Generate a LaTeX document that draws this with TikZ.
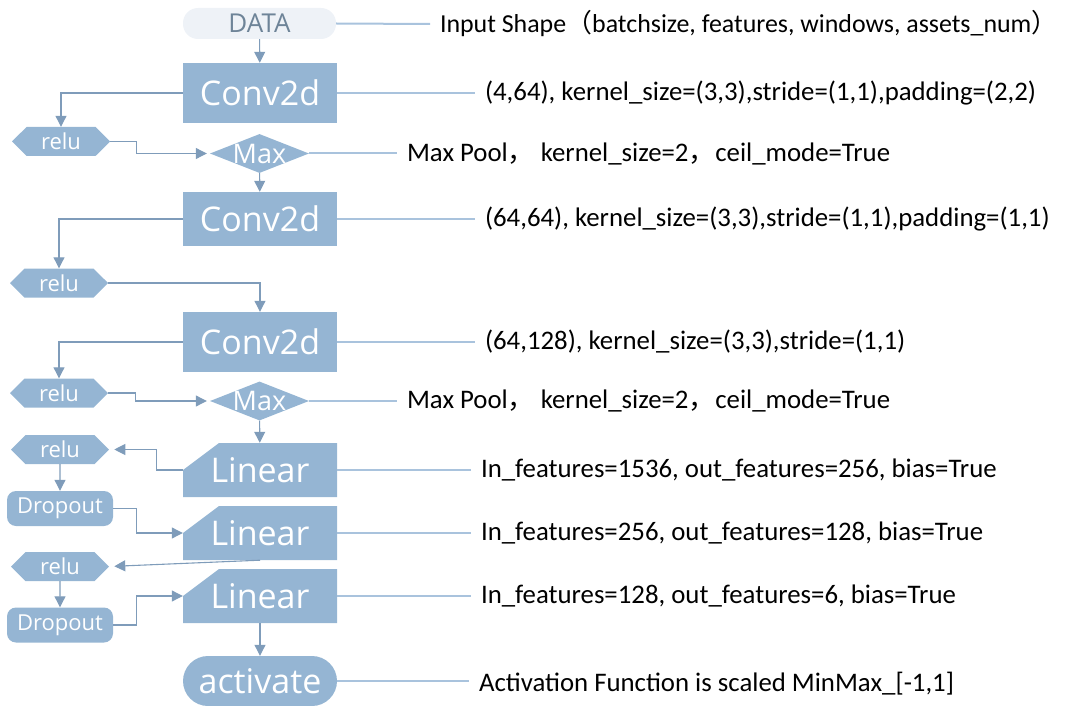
\documentclass[tikz,border=0pt]{standalone}
\usepackage{fontspec}
\setmainfont{Carlito}
\newfontfamily\boxfont{Open Sans}
\newfontfamily\cjk{Noto Sans CJK SC}
\usetikzlibrary{shapes.geometric,shapes.symbols,arrows.meta}
\definecolor{boxblue}{HTML}{95B5D3}
\definecolor{arrowblue}{HTML}{7F9CBA}
\definecolor{lineblue}{HTML}{A9C3DD}
\definecolor{datafill}{HTML}{EEF2F7}
\definecolor{datatext}{HTML}{6E8498}
\newcommand{\fcomma}{{\cjk ，}}

\begin{document}
\begin{tikzpicture}[x=1pt,y=-1pt]
\useasboundingbox (0,0) rectangle (1066,706);
\tikzstyle{every node} = [inner sep=0pt]
\tikzstyle{bigfont} = [font=\boxfont\fontsize{34}{36}\selectfont]
\tikzstyle{smallfont} = [font=\boxfont\fontsize{22}{24}\selectfont]
\tikzstyle{databox} = [rectangle,rounded corners=15pt,fill=datafill,text=datatext,
minimum width=153pt,minimum height=31pt,font=\boxfont\fontsize{26}{28}\selectfont]
\tikzstyle{convbox} = [rectangle,fill=boxblue,text=white,minimum width=154pt,
minimum height=60pt,bigfont]
\tikzstyle{linbox} = [rectangle,text=white,minimum width=154pt,minimum height=54pt,bigfont,
path picture={\fill[boxblue] (path picture bounding box.south west)
-- (path picture bounding box.west) -- ([xshift=36pt]path picture bounding box.north west)
-- (path picture bounding box.north east) -- (path picture bounding box.south east) -- cycle;}]
\tikzstyle{actbox} = [rectangle,rounded corners=25pt,fill=boxblue,text=white,
minimum width=154pt,minimum height=50pt,bigfont]
\tikzstyle{relubox} = [signal,signal to=west and east,signal pointer angle=90,
fill=boxblue,text=white,minimum width=98pt,minimum height=29pt,smallfont]
\tikzstyle{dropbox} = [rectangle,rounded corners=9pt,fill=boxblue,text=white,
minimum width=106pt,minimum height=35pt,smallfont]
\tikzstyle{maxbox} = [diamond,fill=boxblue,minimum width=99pt,minimum height=39pt]
\tikzstyle{maxtext} = [text=white,font=\boxfont\fontsize{27}{29}\selectfont]
\tikzstyle{note} = [anchor=west,outer xsep=10pt,font=\fontsize{26.8}{28}\selectfont]
\tikzstyle{arrow} = [-{Triangle[width=11pt,length=11pt]},draw=arrowblue,line width=1.1pt]
\tikzstyle{link} = [draw=lineblue,line width=2pt]

% main column
\node[databox] (data) at (259.5, 23.5) {DATA};
\node[convbox] (conv1) at (260, 93) {Conv2d};
\node[maxbox,label={[maxtext]center:Max}] (max1) at (259.5, 153.5) {};
\node[convbox,minimum height=54pt] (conv2) at (260, 219) {Conv2d};
\node[convbox] (conv3) at (260, 342) {Conv2d};
\node[maxbox,label={[maxtext]center:Max}] (max2) at (259.5, 401) {};
\node[linbox] (lin1) at (260, 470) {Linear};
\node[linbox] (lin2) at (260, 533) {Linear};
\node[linbox] (lin3) at (260, 596) {Linear};
\node[actbox] (act) at (260, 681) {activate};

% side column
\node[relubox] (relu1) at (61, 141.5) {relu};
\node[relubox] (relu2) at (59, 283) {relu};
\node[relubox] (relu3) at (59, 393) {relu};
\node[relubox] (relu4) at (60, 449.5) {relu};
\node[dropbox] (drop1) at (60, 508.5) {Dropout};
\node[relubox] (relu5) at (60, 566.5) {relu};
\node[dropbox] (drop2) at (60, 625) {Dropout};

% notes
\node[note,font=\fontsize{25.9}{28}\selectfont] (tdata) at (430, 24) {Input Shape{\cjk （}batchsize, features, windows, assets\_num{\cjk ）}};
\node[note] (tconv1) at (475, 93) {(4,64), kernel\_size=(3,3),stride=(1,1),padding=(2,2)};
\node[note] (tmax1) at (397, 153.5) {Max Pool\fcomma\ kernel\_size=2\fcomma ceil\_mode=True};
\node[note] (tconv2) at (475, 219) {(64,64), kernel\_size=(3,3),stride=(1,1),padding=(1,1)};
\node[note] (tconv3) at (475, 342) {(64,128), kernel\_size=(3,3),stride=(1,1)};
\node[note] (tmax2) at (397, 401) {Max Pool\fcomma\ kernel\_size=2\fcomma ceil\_mode=True};
\node[note] (tlin1) at (471, 470) {In\_features=1536, out\_features=256, bias=True};
\node[note] (tlin2) at (471, 533) {In\_features=256, out\_features=128, bias=True};
\node[note] (tlin3) at (471, 596) {In\_features=128, out\_features=6, bias=True};
\node[note] (tact) at (469, 684) {Activation Function is scaled MinMax\_[-1,1]};

\draw [link] (data.east) -- (tdata.west);
\draw [link] (conv1.east) -- (tconv1.west);
\draw [link] (max1.east) -- (tmax1.west);
\draw [link] (conv2.east) -- (tconv2.west);
\draw [link] (conv3.east) -- (tconv3.west);
\draw [link] (max2.east) -- (tmax2.west);
\draw [link] (lin1.east) -- (tlin1.west);
\draw [link] (lin2.east) -- (tlin2.west);
\draw [link] (lin3.east) -- (tlin3.west);
\draw [link] (act.east) -- (tact.west |- act.east);

\draw [arrow] (data) -- (conv1);
\draw [arrow] (conv1.west) -| (relu1.north);
\draw [arrow,shorten >=3pt] (relu1.east) -- ++(26,0) |- (max1.west);
\draw [arrow] (max1) -- (conv2);
\draw [arrow] (conv2.west) -| (relu2.north);
\draw [arrow] (relu2.east) -| (conv3.north);
\draw [arrow] (conv3.west) -| (relu3.north);
\draw [arrow,shorten >=3pt] (relu3.east) -- ++(27,0) |- (max2.west);
\draw [arrow] (max2) -- (lin1);
\draw [arrow,shorten >=5pt] (lin1.west) -- ++(-26,0) |- (relu4.east);
\draw [arrow] (relu4) -- (drop1);
\draw [arrow] (drop1.east) -- ++(23,0) |- (lin2.west);
\draw [arrow,shorten >=5pt] (lin2.south) -- (relu5.east);
\draw [arrow] (relu5) -- (drop2);
\draw [arrow] (drop2.east) -- ++(23,0) |- (lin3.west);
\draw [arrow] (lin3) -- (act);
\end{tikzpicture}
\end{document}
